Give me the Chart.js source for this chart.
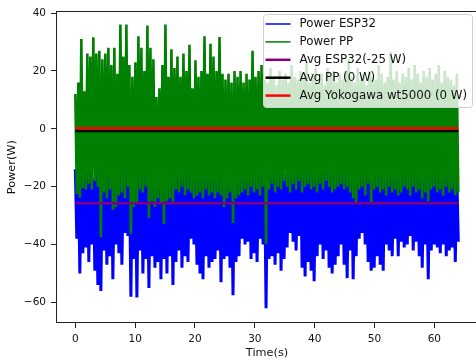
<!DOCTYPE html>
<html>
<head>
<meta charset="utf-8">
<script src="https://cdn.jsdelivr.net/npm/chart.js@4"></script>
<style>
html, body { margin: 0; padding: 0; background: #fff; overflow: hidden; }
#wrap { width: 476px; height: 360px; overflow: hidden; }
</style>
</head>
<body>
<div id="wrap"><canvas id="c" width="490" height="360"></canvas></div>
<script>
// sample spacing (s); peaks at even samples, dips at odd samples
const dt = 0.251;

const espPeak = [
  -14, -12, -16, -13, -15, -11, -17, -14, -10, -15,
  -13, -16, -12, -15, -11, -14, -17, -13, -15, -12,
  -16, -14, -11, -15, -13, -12, -16, -14, -10, -15,
  -12, -17, -14, -8, -15, -13, -16, -12, -14, -11,
  -15, -13, -16, -12, -14, -17, -11, -15, -13, -6,
  -14, -12, -16, -13, -15, -11, -14, -16, -12, -15,
  -13, -16, -12, -14, -11, -15, -13, -17, -12, -14,
  -16, -13, -15, -11, -14, -12, -16, -13, -15, -12,
  -14, -16, -11, -15, -13, -12, -16, -14, -13, -15,
  -12, -15, -13, -16, -11, -14, -12, -15, -13, -16,
  -14, -11, -15, -13, -16, -12, -14, -13, -15, -8,
  -13, -16, -12, -14, -11, -15, -13, -16, -12, -14,
  -7, -15, -13, -12, -16, -14, -11, -15
];
const espDip = [
  -38, -50, -43, -41, -46, -40, -49, -54, -56, -42,
  -47, -44, -52, -40, -43, -47, -36, -37, -58, -45,
  -58.3, -42, -50, -45, -55, -44, -48, -46, -52, -45,
  -50, -44, -54, -46, -42, -48, -44, -46, -38, -40,
  -47, -50, -52, -44, -48, -46, -45, -42, -53, -45,
  -44, -48, -57.5, -46, -44, -38, -40, -39, -45, -43,
  -46, -38, -40, -62, -45, -44, -47, -43, -49, -45,
  -41, -36, -39, -42, -37, -48, -51, -46, -49, -52.7,
  -44, -40, -45, -42, -48, -50, -47, -44, -40, -47,
  -51.6, -42, -52, -44, -38, -36, -40, -46, -49, -48,
  -44, -47, -49, -40, -42, -44, -38, -44, -39, -41,
  -40, -37, -42, -39, -44, -48, -40, -52, -42, -40,
  -41, -43, -40, -44, -42, -41, -46, -39
];
const ppPeak = [
  12, 16, 31, 13, 26, 25, 31.6, 26, 27, 24,
  26, 28, 22, 28, 19, 36, 25, 36, 22, 18,
  23, 32, 28, 20, 35.7, 28, 24, 11, 14, 22,
  36, 18, 27.5, 21, 25, 18, 26, 20, 29, 14,
  23.7, 18, 20, 32, 19, 29.4, 25, 20, 31.7, 19,
  17, 19, 16, 20, 18, 20, 16, 19, 17, 27,
  18, 20, 22, 17, 16, 21, 18, 15, 20, 17,
  19, 16, 22, 18, 17, 20, 18, 23, 16, 19,
  21, 17, 19, 15, 21, 18, 20, 16, 19, 17,
  20, 24, 18, 16, 21, 17, 19, 15, 20, 18,
  17, 22, 19, 16, 18, 26.5, 17, 20, 16, 19,
  18, 21, 17, 22, 19, 16, 20, 18, 21, 17,
  19, 22, 16, 20, 18, 17, 15, 19
];
const ppDip = [
  -22.5, -23.8, -20.5, -21, -19, -21, -18, -20, -37.5, -22,
  -24, -21, -28, -27, -23, -22, -24, -20, -36.3, -27,
  -26, -21, -22, -20, -30.7, -25, -27, -24, -26, -32.9,
  -25, -24, -26, -21, -22, -20, -23, -21, -22, -24,
  -23, -22, -24, -21, -23, -22, -24, -22, -23, -27,
  -24, -22, -32.5, -24, -23, -22, -21, -23, -20, -22,
  -21, -23, -20, -39.7, -21, -19, -22, -20, -21, -18,
  -20, -22, -19, -21, -18, -22, -20, -19, -21, -20,
  -22, -19, -21, -18, -20, -22, -21, -20, -19, -21,
  -20, -22, -24, -25.8, -21, -20, -23, -19, -25.6, -21,
  -20, -22, -21, -23, -20, -22, -21, -23, -22, -20,
  -21, -23, -20, -22, -21, -24, -22, -25, -21, -20,
  -22, -21, -23, -20, -22, -21, -23, -22
];

const avgEsp = -25.7;
const avgPP = -0.8;
const avgYoko = 0.2;

const xTicks = [0, 10, 20, 30, 40, 50, 60];
const yTicks = [-60, -40, -20, 0, 20, 40];

const names = ['Power ESP32', 'Power PP', 'Avg ESP32(-25 W)', 'Avg PP (0 W)', 'Avg Yokogawa wt5000 (0 W)'];
const colors = ['#0000ff', '#008000', '#800080', '#000000', '#ff0000'];
const lineWidths = [3, 2.6, 2.5, 2.5, 2.5];
const keyWidths = [1.5, 1.5, 2.5, 2.5, 2.5];

function zigzag(peaks, dips) {
  const pts = [];
  peaks.forEach((p, i) => {
    pts.push({x: 2 * i * dt, y: p});
    pts.push({x: (2 * i + 1) * dt, y: dips[i]});
  });
  return pts;
}

const tEnd = (2 * espPeak.length - 1) * dt;
const flat = v => [{x: 0, y: v}, {x: tEnd, y: v}];
const minus = v => String(v).replace('-', '\u2212');

const frame = {
  id: 'frame',
  afterDraw(chart) {
    const ctx = chart.ctx, a = chart.chartArea;
    ctx.save();
    ctx.strokeStyle = '#222';
    ctx.lineWidth = 1;
    ctx.strokeRect(Math.round(a.left) + 0.5, Math.round(a.top) + 0.5,
      Math.round(a.right - a.left), Math.round(a.bottom - a.top) - 1);

    // legend box in matplotlib style
    const bx = 263, by = 14, bw = 209, bh = 93;
    ctx.beginPath();
    ctx.roundRect(bx + 0.5, by + 0.5, bw, bh, 3);
    ctx.fillStyle = 'rgba(255,255,255,0.8)';
    ctx.fill();
    ctx.strokeStyle = '#d0d0d0';
    ctx.lineWidth = 1;
    ctx.stroke();
    ctx.font = '11.8px "DejaVu Sans"';
    ctx.textBaseline = 'middle';
    names.forEach((n, i) => {
      const y = 24 + i * 17.9;
      ctx.beginPath();
      ctx.moveTo(265.5, y);
      ctx.lineTo(290.5, y);
      ctx.strokeStyle = colors[i];
      ctx.lineWidth = keyWidths[i];
      ctx.stroke();
      ctx.fillStyle = '#111';
      ctx.fillText(n, 299.5, y);
    });
    ctx.restore();
  }
};

const tickFont = {family: 'DejaVu Sans', size: 10.5};
const titleFont = {family: 'DejaVu Sans', size: 11.3};

new Chart(document.getElementById('c'), {
  type: 'line',
  data: {
    datasets: [
      {label: names[0], data: zigzag(espPeak, espDip), order: 5},
      {label: names[1], data: zigzag(ppPeak, ppDip), order: 4},
      {label: names[2], data: flat(avgEsp), order: 3},
      {label: names[3], data: flat(avgPP), order: 2},
      {label: names[4], data: flat(avgYoko), order: 1}
    ].map((d, i) => Object.assign(d, {
      borderColor: colors[i],
      borderWidth: lineWidths[i],
      borderJoinStyle: 'bevel',
      pointRadius: 0,
      tension: 0,
      fill: false
    }))
  },
  options: {
    responsive: false,
    devicePixelRatio: 1,
    animation: false,
    parsing: false,
    layout: {padding: {left: 0, top: 9, right: 12, bottom: 0}},
    plugins: {legend: {display: false}, tooltip: {enabled: false}},
    scales: {
      x: {
        type: 'linear',
        min: -3.23,
        max: 67.3,
        afterBuildTicks: s => { s.ticks = xTicks.map(v => ({value: v})); },
        afterFit: s => { s.height = 37; },
        grid: {drawOnChartArea: false, tickLength: 5, color: '#222'},
        border: {display: false},
        ticks: {color: '#111', font: tickFont, padding: 5, maxRotation: 0, autoSkip: false, callback: minus},
        title: {display: true, text: 'Time(s)', color: '#111', font: titleFont, padding: {top: 0, bottom: 0}}
      },
      y: {
        min: -67.1,
        max: 40.6,
        afterBuildTicks: s => { s.ticks = yTicks.map(v => ({value: v})); },
        afterFit: s => { s.width = 56; },
        grid: {drawOnChartArea: false, tickLength: 5, color: '#222'},
        border: {display: false},
        ticks: {color: '#111', font: tickFont, padding: 5, autoSkip: false, callback: minus},
        title: {display: true, text: 'Power(W)', color: '#111', font: titleFont, padding: {top: 5, bottom: 0}}
      }
    }
  },
  plugins: [frame]
});
</script>
</body>
</html>
